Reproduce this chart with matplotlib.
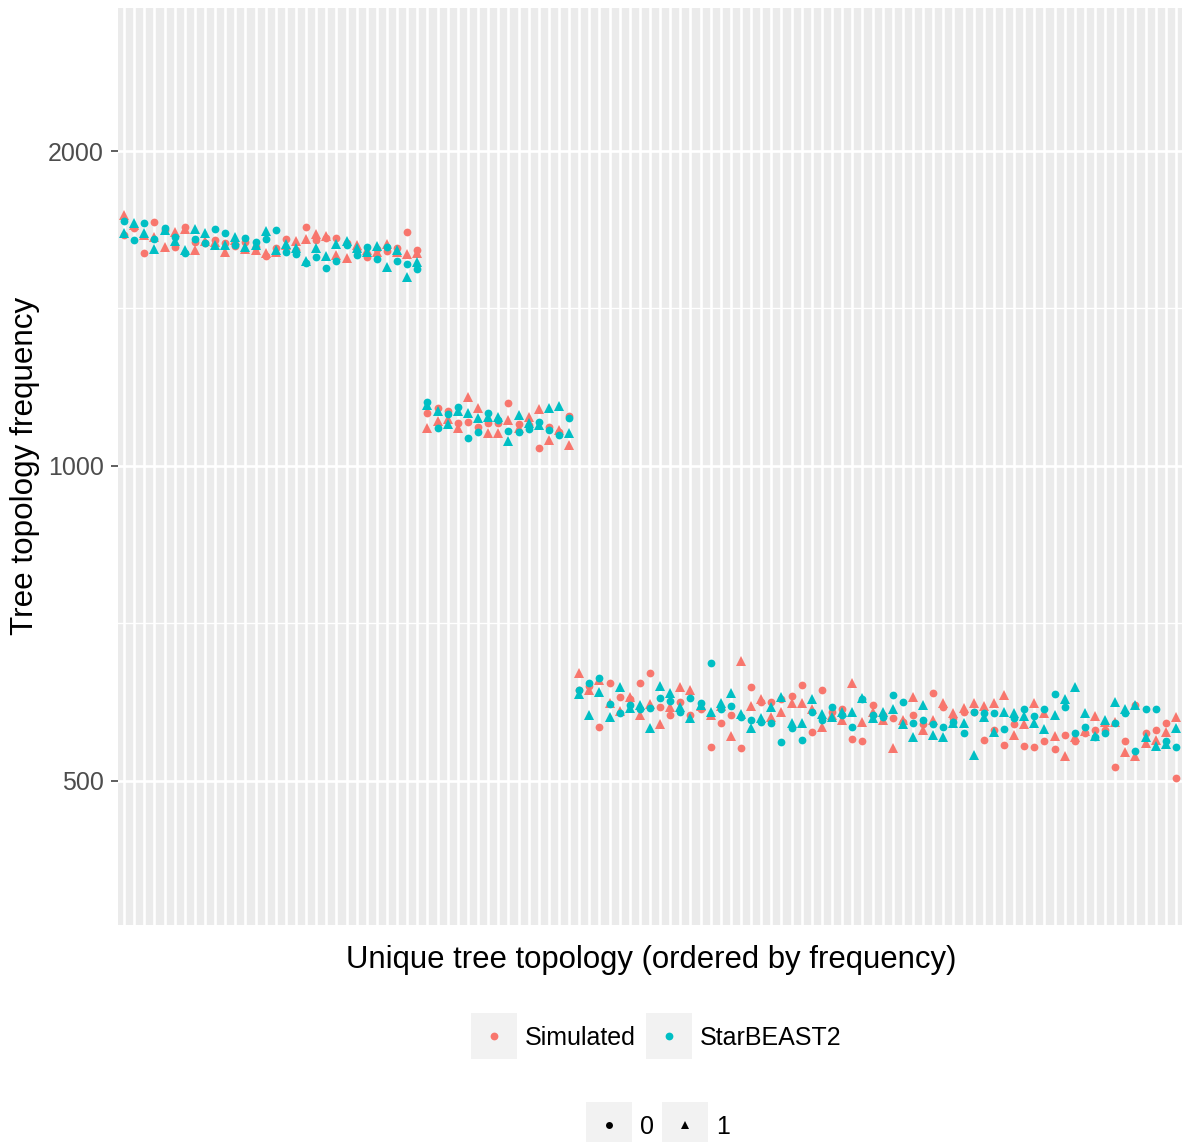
import matplotlib

matplotlib.use("Agg")
import matplotlib.pyplot as plt
from matplotlib.patches import Rectangle
from matplotlib.ticker import FixedLocator, NullFormatter

plt.rcParams["font.family"] = ["Liberation Sans", "DejaVu Sans"]

# frequencies per topology, in rank order (105 topologies)
sim_rep0 = [
    1663, 1689, 1598, 1711, 1681, 1619, 1692, 1637, 1633, 1644, 1633, 1623, 1637, 1619, 1588,
    1616, 1648, 1609, 1692, 1644, 1652, 1652, 1633, 1609, 1584, 1612, 1605, 1616, 1674, 1609,
    1124, 1136, 1129, 1099, 1102, 1090, 1099, 1099, 1149, 1097, 1094, 1040, 1090, 1078, 1117,
    611, 616, 563, 620, 601, 598, 620, 634, 588, 578, 595, 578, 585, 539, 568,
    578, 538, 615, 595, 595, 598, 603, 618, 557, 610, 582, 585, 548, 546, 591,
    578, 574, 569, 578, 566, 606, 588, 574, 582, 582, 547, 559, 541, 567, 540,
    539, 546, 536, 553, 546, 555, 559, 559, 515, 546, 591, 555, 559, 568, 503,
]
sim_rep1 = [
    1737, 1700, 1663, 1655, 1619, 1674, 1685, 1609, 1641, 1637, 1602, 1644, 1612, 1609, 1598,
    1602, 1626, 1641, 1648, 1666, 1659, 1591, 1581, 1626, 1609, 1602, 1630, 1602, 1595, 1598,
    1087, 1104, 1109, 1087, 1164, 1136, 1075, 1075, 1107, 1087, 1114, 1134, 1059, 1082, 1047,
    634, 610, 624, 594, 583, 601, 578, 592, 566, 588, 615, 610, 590, 578, 590,
    552, 651, 590, 598, 576, 582, 594, 594, 586, 563, 578, 571, 620, 569, 582,
    571, 538, 572, 601, 559, 572, 594, 581, 587, 594, 590, 594, 604, 553, 566,
    594, 581, 552, 528, 550, 558, 577, 569, 569, 533, 528, 543, 547, 557, 576,
]
sb2_rep0 = [
    1714, 1644, 1707, 1648, 1689, 1655, 1598, 1648, 1633, 1685, 1670, 1626, 1652, 1637, 1648,
    1681, 1602, 1595, 1563, 1584, 1546, 1570, 1626, 1591, 1619, 1577, 1619, 1570, 1560, 1542,
    1151, 1087, 1121, 1139, 1064, 1078, 1124, 1107, 1080, 1078, 1085, 1102, 1082, 1071, 1112,
    610, 620, 627, 592, 581, 591, 585, 587, 600, 596, 582, 600, 594, 648, 585,
    590, 576, 572, 569, 568, 545, 562, 547, 582, 571, 588, 578, 563, 598, 578,
    576, 604, 595, 568, 572, 567, 563, 569, 555, 582, 581, 581, 560, 574, 585,
    577, 585, 605, 588, 555, 563, 550, 555, 568, 581, 534, 586, 585, 546, 539,
]
sb2_rep1 = [
    1670, 1707, 1670, 1612, 1681, 1641, 1609, 1685, 1670, 1626, 1626, 1655, 1619, 1626, 1678,
    1609, 1630, 1616, 1570, 1616, 1588, 1630, 1641, 1616, 1602, 1623, 1549, 1609, 1516, 1567,
    1144, 1129, 1097, 1129, 1124, 1112, 1114, 1114, 1057, 1119, 1099, 1094, 1136, 1141, 1075,
    605, 578, 608, 576, 614, 587, 591, 562, 616, 606, 588, 574, 591, 582, 594,
    606, 579, 562, 574, 588, 601, 568, 568, 599, 579, 576, 582, 582, 600, 574,
    582, 586, 566, 551, 591, 553, 550, 568, 568, 529, 576, 557, 582, 581, 577,
    568, 560, 578, 598, 615, 581, 552, 572, 595, 585, 591, 550, 540, 542, 562,
]

y_ticks = [500, 1000, 2000]
y_minor = [353.6, 707.1, 1414.2, 2828.4]
series_names = ["Simulated", "StarBEAST2"]
shape_names = ["0", "1"]

RED = "#F8766D"
TEAL = "#00BFC4"
W, H = 1182, 1142


def main() -> None:
    fig = plt.figure(figsize=(W / 100, H / 100), dpi=100)
    ax = fig.add_axes([118 / W, 1 - 925 / H, 1064 / W, 917 / H])
    ax.set_facecolor("#EBEBEB")
    for side in ax.spines.values():
        side.set_visible(False)

    n = len(sim_rep0)
    xs = list(range(n))
    ax.plot(xs, sim_rep0, "o", color=RED, ms=5.6, mew=0, zorder=3)
    ax.plot(xs, sim_rep1, "^", color=RED, ms=7.0, mew=0, zorder=3)
    ax.plot(xs, sb2_rep0, "o", color=TEAL, ms=5.6, mew=0, zorder=3)
    ax.plot(xs, sb2_rep1, "^", color=TEAL, ms=7.0, mew=0, zorder=3)

    ax.set_yscale("log")
    ax.set_ylim(364, 2740)
    ax.set_xlim(-0.6, n - 0.4)
    ax.yaxis.set_major_locator(FixedLocator(y_ticks))
    ax.set_yticklabels([str(t) for t in y_ticks])
    ax.yaxis.set_minor_locator(FixedLocator(y_minor))
    ax.yaxis.set_minor_formatter(NullFormatter())
    ax.set_xticks(xs)
    ax.set_xticklabels([])
    ax.tick_params(axis="x", length=0)
    ax.tick_params(axis="y", which="major", length=5.3, width=1.1, color="#333333",
                   labelcolor="#4D4D4D", labelsize=18, pad=5)
    ax.tick_params(axis="y", which="minor", length=0)
    ax.set_axisbelow(True)
    ax.grid(True, which="major", color="white", linewidth=1.9)
    ax.grid(True, which="minor", axis="y", color="white", linewidth=0.95)

    fig.text(651 / W, 1 - 960 / H, "Unique tree topology (ordered by frequency)",
             ha="center", va="center", fontsize=22.4, color="black")
    fig.text(25 / W, 1 - 466 / H, "Tree topology frequency", rotation=90,
             ha="center", va="center", fontsize=22.6, color="black")

    # legends drawn in pixel space
    lax = fig.add_axes([0, 0, 1, 1], zorder=5)
    lax.set_xlim(0, W)
    lax.set_ylim(H, 0)
    lax.axis("off")
    lax.patch.set_alpha(0)

    key_rows = [
        (1036, [(471, series_names[0], RED, "o", 5.6),
                (646, series_names[1], TEAL, "o", 5.6)]),
        (1125, [(586, shape_names[0], "black", "o", 5.0),
                (662, shape_names[1], "black", "^", 6.4)]),
    ]
    for yc, keys in key_rows:
        for x0, label, col, mk, size in keys:
            lax.add_patch(Rectangle((x0, yc - 23), 46, 46, facecolor="#F2F2F2",
                                    edgecolor="none"))
            lax.plot([x0 + 23], [yc], mk, color=col, ms=size, mew=0)
            lax.text(x0 + 54, yc + 2, label, ha="left", va="center", fontsize=18,
                     color="black")

    fig.savefig("out.png", dpi=100)
    plt.close(fig)


if __name__ == "__main__":
    main()
